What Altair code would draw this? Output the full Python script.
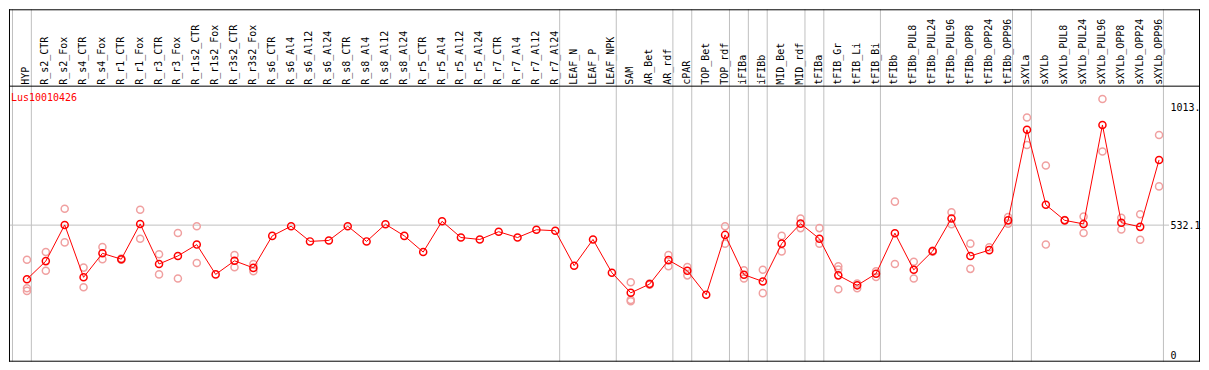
import json
import altair as alt
import pandas as pd

categories = [
    "HYP", "R_s2_CTR", "R_s2_Fox", "R_s4_CTR", "R_s4_Fox", "R_r1_CTR", "R_r1_Fox",
    "R_r3_CTR", "R_r3_Fox", "R_r1s2_CTR", "R_r1s2_Fox", "R_r3s2_CTR", "R_r3s2_Fox",
    "R_s6_CTR", "R_s6_Al4", "R_s6_Al12", "R_s6_Al24", "R_s8_CTR", "R_s8_Al4",
    "R_s8_Al12", "R_s8_Al24", "R_r5_CTR", "R_r5_Al4", "R_r5_Al12", "R_r5_Al24",
    "R_r7_CTR", "R_r7_Al4", "R_r7_Al12", "R_r7_Al24", "LEAF_N", "LEAF_P", "LEAF_NPK",
    "SAM", "AR_Bet", "AR_rdf", "cPAR", "TOP_Bet", "TOP_rdf", "iFIBa", "iFIBb",
    "MID_Bet", "MID_rdf", "tFIBa", "tFIB_Gr", "tFIB_Li", "tFIB_Bi", "tFIBb",
    "tFIBb_PUL8", "tFIBb_PUL24", "tFIBb_PUL96", "tFIBb_OPP8", "tFIBb_OPP24",
    "tFIBb_OPP96", "sXYLa", "sXYLb", "sXYLb_PUL8", "sXYLb_PUL24", "sXYLb_PUL96",
    "sXYLb_OPP8", "sXYLb_OPP24", "sXYLb_OPP96",
]

means = [
    311.6, 385.5, 533.0, 319.5, 417.2, 393.4, 537.0, 373.7, 406.5, 452.8,
    331.4, 386.7, 357.9, 488.3, 527.9, 465.8, 469.8, 527.9, 465.8, 535.8,
    488.3, 422.3, 547.7, 481.6, 473.7, 505.3, 481.6, 513.2, 509.3, 366.9,
    473.7, 338.1, 256.2, 291.8, 389.5, 346.0, 248.3, 492.3, 330.2, 302.5,
    456.7, 538.2, 476.5, 327.4, 286.7, 334.1, 499.4, 349.9, 426.3, 559.5,
    406.5, 430.2, 551.6, 920.5, 614.9, 551.6, 537.0, 940.3, 542.1, 525.1, 797.9,
]

replicates = [
    [390.7, 274.8, 264.1], [422.3, 346.0], [599.1, 461.8], [359.0, 278.8],
    [443.3, 393.4], [395.8, 391.0], [595.1, 476.5], [413.2, 331.4],
    [500.2, 314.4], [527.9, 377.6], [], [410.4, 360.2], [373.7, 344.4],
    [], [], [], [], [], [], [], [], [], [], [], [], [], [], [], [], [], [], [],
    [299.7, 227.4, 221.8], [294.0, 289.5], [410.4, 364.2], [361.8, 327.4], [],
    [527.9, 456.7], [348.4, 314.4], [349.9, 255.0], [488.3, 425.1],
    [559.5, 520.0], [520.0, 456.7], [364.2, 351.1, 270.9], [294.6, 274.8],
    [344.4, 320.7], [627.9, 373.7], [382.8, 314.4], [428.0, 424.0],
    [584.4, 535.8], [456.7, 353.9], [442.1], [564.7, 538.2], [970.7, 858.4],
    [775.4, 452.8], [553.0], [567.4, 500.2], [1045.9, 832.4], [561.9, 514.4],
    [576.5, 472.5], [899.6, 690.0],
]

separators_after = [-1, 0, 28, 31, 34, 35, 37, 38, 39, 41, 42, 45, 52, 53, 60]
y_tick_values = [0, 532.1, 1013]
y_tick_labels = ["0", "532.1", "1013."]
title_text = "Lus10010426"

W, H = 1162, 276
LABEL_H = 77
FULL_W = 1193
FONT = "DejaVu Sans Mono"

mean_df = pd.DataFrame({"idx": list(range(len(categories))), "val": means})
rep_df = pd.DataFrame(
    [{"idx": i, "val": v} for i, r in enumerate(replicates) for v in r]
)
sep_df = pd.DataFrame({"idx": [s + 0.233 for s in separators_after]})
one = pd.DataFrame({"a": [0]})

x_scale = alt.Scale(domain=[-0.952, 60.53], nice=False, zero=False)
y_scale = alt.Scale(domain=[-24.5, 1098.5], nice=False, zero=False)

x_axis = alt.Axis(
    orient="top", values=list(range(len(categories))),
    labelExpr=json.dumps(categories) + "[datum.value]",
    labelAngle=270, labelAlign="left", labelBaseline="middle",
    labelPadding=2, labelOffset=-1, ticks=False, domain=False, grid=False,
    title=None, labelFont=FONT, labelFontSize=10, labelColor="black",
    minExtent=LABEL_H, maxExtent=LABEL_H, labelOverlap=False,
    labelFlush=False, labelBound=False,
)
y_axis = alt.Axis(
    orient="right", values=y_tick_values,
    labelExpr=json.dumps(y_tick_labels) + "[indexof(" + json.dumps(y_tick_values) + ", datum.value)]",
    ticks=False, domain=False, grid=False, title=None, labelPadding=1,
    labelFont=FONT, labelFontSize=10, labelColor="black", labelBaseline="middle",
    labelOverlap=False, labelFlush=False,
)

X = alt.X("idx:Q", scale=x_scale, axis=x_axis)
Y = alt.Y("val:Q", scale=y_scale, axis=y_axis)

seps = alt.Chart(sep_df).mark_rule(color="#c0c0c0", strokeWidth=1).encode(
    x=X, y=alt.value(-LABEL_H), y2=alt.value(H)
)
grid = alt.Chart(pd.DataFrame({"val": [532.1]})).mark_rule(
    color="#c0c0c0", strokeWidth=1
).encode(y=Y)
pale = alt.Chart(rep_df).mark_point(
    shape="circle", filled=False, size=50, strokeWidth=1.5,
    color="#f0a0a0", opacity=1
).encode(x=X, y=Y)
line = alt.Chart(mean_df).mark_line(color="#ff0000", strokeWidth=1).encode(x=X, y=Y)
main = alt.Chart(mean_df).mark_point(
    shape="circle", filled=False, size=50, strokeWidth=1.5,
    color="#ff0000", opacity=1
).encode(x=X, y=Y)

frame_left = alt.Chart(one).mark_rule(color="black").encode(
    x=alt.value(0.5), y=alt.value(-LABEL_H), y2=alt.value(H)
)
frame_right = alt.Chart(one).mark_rule(color="black").encode(
    x=alt.value(FULL_W - 0.5), y=alt.value(-LABEL_H), y2=alt.value(H)
)
frame_top = alt.Chart(one).mark_rule(color="black").encode(
    x=alt.value(0), x2=alt.value(FULL_W), y=alt.value(-LABEL_H + 0.5)
)
frame_sep = alt.Chart(one).mark_rule(color="black").encode(
    x=alt.value(0), x2=alt.value(FULL_W), y=alt.value(0)
)
frame_bottom = alt.Chart(one).mark_rule(color="black").encode(
    x=alt.value(0), x2=alt.value(FULL_W), y=alt.value(H - 0.5)
)
title = alt.Chart(one).mark_text(
    text=title_text, color="#ff0000", font=FONT, fontSize=10,
    align="left", baseline="middle"
).encode(x=alt.value(2), y=alt.value(12))

chart = alt.layer(
    seps, grid, pale, line, main,
    frame_left, frame_right, frame_top, frame_sep, frame_bottom, title
).properties(
    width=W, height=H, padding=0, background="white"
).configure_view(stroke=None)

chart.save("out.html", embed_options={"renderer": "svg", "actions": False})
